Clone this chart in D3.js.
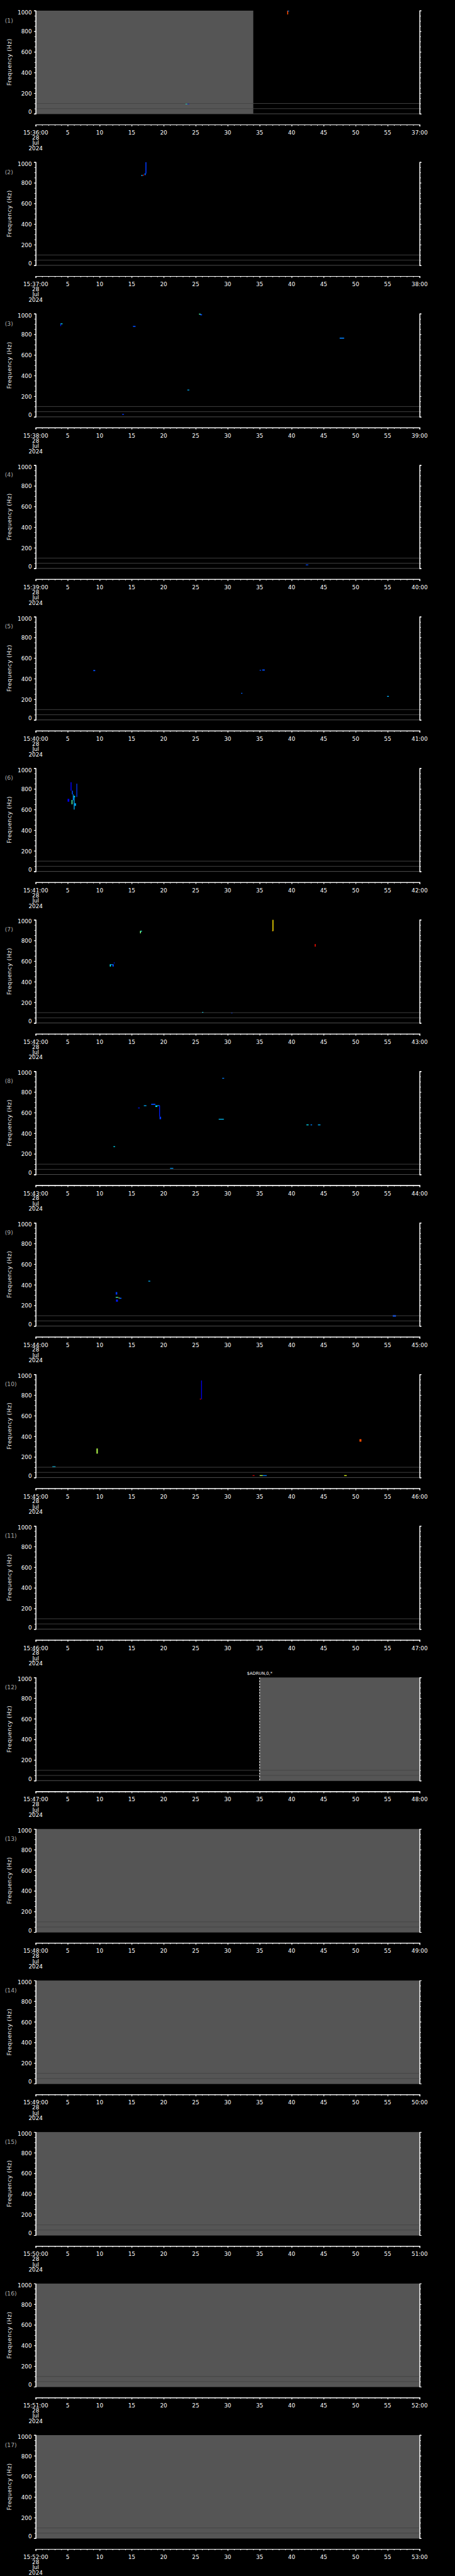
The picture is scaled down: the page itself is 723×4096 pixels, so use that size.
<!DOCTYPE html>
<html><head><meta charset="utf-8">
<script src="https://cdn.jsdelivr.net/npm/d3@7"></script>
<style>html,body{margin:0;padding:0;background:#000;overflow:hidden}svg{display:block}</style>
</head><body>
<svg id="c" width="723" height="4096" viewBox="0 0 1024 5802"></svg>
<script>
// ---------- data ----------
const panelIds = ["(1)","(2)","(3)","(4)","(5)","(6)","(7)","(8)","(9)","(10)","(11)","(12)","(13)","(14)","(15)","(16)","(17)"];
const startLabels = ["15:36:00","15:37:00","15:38:00","15:39:00","15:40:00","15:41:00","15:42:00","15:43:00","15:44:00","15:45:00","15:46:00","15:47:00","15:48:00","15:49:00","15:50:00","15:51:00","15:52:00"];
const endLabels = ["37:00","38:00","39:00","40:00","41:00","42:00","43:00","44:00","45:00","46:00","47:00","48:00","49:00","50:00","51:00","52:00","53:00"];
const dateLines = ["28","Jul","2024"];
const timeTickValues = [5,10,15,20,25,30,35,40,45,50,55];
const timeTickLabels = ["5","10","15","20","25","30","35","40","45","50","55"];
const freqTicks = [0,200,400,600,800,1000];
const freqTickLabels = ["0","200","400","600","800","1000"];
const refLineFreqs = [0,50,100];
// no-data (gray) spans: panel number, start second, end second
const grayPanel = [1,12,13,14,15,16,17];
const grayStart = [0,35,0,0,0,0,0];
const grayEnd   = [34,60,60,60,60,60,60];
// annotation markers
const notePanel = [12];
const noteTime = [35];
const noteText = ["$ADRUN,0,*"];
// spectrogram traces: [panel, t0 (s), t1 (s), f0 (Hz), f1 (Hz), intensity 0..1]
const traces = [
 [1,39.3,39.45,963,1000,0.8],[1,39.4,39.6,995,1000,0.25],[1,23.4,23.7,97,101,0.4],[1,23.7,24.0,97,101,0.15],
 [2,17.15,17.3,890,1000,0.18],[2,17.0,17.2,875,892,0.22],[2,16.75,16.9,868,880,0.92],[2,16.5,16.7,866,876,0.3],
 [3,3.85,3.95,880,905,0.15],[3,3.9,4.2,902,906,0.35],[3,15.2,15.6,872,882,0.2],[3,25.5,25.8,996,1000,0.45],
 [3,25.7,26.0,985,995,0.2],[3,47.5,48.2,758,768,0.25],[3,23.7,24.0,260,264,0.3],[3,13.5,13.8,24,28,0.18],
 [4,42.2,42.6,34,38,0.2],
 [5,9.0,9.3,473,484,0.2],[5,35.0,35.2,479,485,0.2],[5,35.4,35.8,478,489,0.2],[5,32.1,32.3,258,262,0.22],[5,54.9,55.2,228,232,0.3],
 [6,5.45,5.6,783,865,0.12],[6,5.65,5.8,747,783,0.2],[6,5.8,5.9,690,747,0.25],[6,5.95,6.15,719,733,0.38],
 [6,5.95,6.05,600,719,0.3],[6,6.36,6.44,722,851,0.18],[6,4.98,5.25,676,704,0.1],[6,5.6,5.75,651,693,0.45],[6,6.06,6.29,636,661,0.3],
 [7,16.3,16.45,869,894,0.5],[7,16.4,16.6,890,894,0.4],[7,37.0,37.15,895,1000,0.65],[7,36.95,37.15,893,898,0.68],
 [7,43.6,43.75,740,765,0.86],[7,11.58,11.75,547,569,0.38],[7,11.75,12.05,567,570,0.25],[7,12.0,12.2,547,569,0.2],
 [7,12.2,12.35,583,586,0.15],[7,26.0,26.2,103,107,0.35],[7,30.55,30.75,98,101,0.18],
 [8,29.15,29.45,933,937,0.25],[8,16.0,16.25,645,649,0.15],[8,16.9,17.3,667,671,0.3],[8,18.05,18.7,675,686,0.2],
 [8,18.7,19.0,655,670,0.35],[8,19.0,19.35,668,672,0.25],[8,19.3,19.4,560,670,0.15],[8,19.35,19.6,536,560,0.18],
 [8,28.6,29.4,536,540,0.32],[8,42.3,42.65,481,485,0.35],[8,42.95,43.2,481,485,0.25],[8,44.1,44.5,480,485,0.3],
 [8,12.15,12.4,268,274,0.35],[8,21.0,21.5,60,64,0.28],
 [9,17.6,17.9,435,439,0.3],[9,12.5,12.75,305,329,0.18],[9,12.5,12.9,278,282,0.45],[9,12.95,13.1,270,276,0.65],
 [9,13.1,13.4,264,274,0.22],[9,12.55,12.85,236,257,0.15],[9,55.8,56.3,90,107,0.2],
 [10,25.85,25.98,761,941,0.1],[10,25.65,25.85,759,765,0.92],[10,50.6,50.9,348,372,0.8],[10,9.5,9.7,232,282,0.55],
 [10,2.6,3.1,102,109,0.33],[10,33.9,34.2,19,23,0.92],[10,35.0,35.5,19,23,0.55],[10,35.5,36.1,19,23,0.25],[10,48.2,48.6,19,23,0.6]
];

// ---------- layout (reference pixels; viewBox scales to window) ----------
const W = 1024, H = 5802, nP = panelIds.length;
const panelH = H / nP, top0 = 24;
const plotL = 80.3, plotR = 944.5, plotH = 232.3, axisY = 256.7;
const FONT = "DejaVu Sans, Verdana, sans-serif";

const svg = d3.select("#c");
svg.append("rect").attr("width", W).attr("height", H).attr("fill", "#000");

const x = d3.scaleLinear().domain([0, 60]).range([plotL, plotR]);
const y = d3.scaleLinear().domain([0, 1000]).range([plotH, 0]);
const jet = d3.scaleLinear().domain([0, 0.125, 0.375, 0.625, 0.875, 1])
  .range(["#00008f", "#0000ff", "#00ffff", "#ffff00", "#ff0000", "#800000"]);

const minorFreq = d3.range(0, 1001, 50);
const minorTime = d3.range(0, 61, 1);

panelIds.forEach((pid, i) => {
  const pn = i + 1;
  const g = svg.append("g").attr("transform", `translate(0,${top0 + i * panelH})`);

  // no-data spans
  grayPanel.forEach((p, k) => {
    if (p !== pn) return;
    g.append("rect").attr("x", x(grayStart[k])).attr("y", 0)
      .attr("width", x(grayEnd[k]) - x(grayStart[k])).attr("height", plotH).attr("fill", "#555555");
  });

  // traces
  traces.filter(d => d[0] === pn).forEach(d => {
    const x0 = x(d[1]), x1 = x(d[2]);
    const yTop = y(Math.max(d[3], d[4])), yBot = y(Math.min(d[3], d[4]));
    g.append("rect").attr("x", x0).attr("y", yTop)
      .attr("width", Math.max(x1 - x0, 1.8)).attr("height", Math.max(yBot - yTop, 1.8))
      .attr("fill", jet(d[5]));
  });

  // reference lines
  refLineFreqs.forEach(f => {
    g.append("line").attr("x1", plotL).attr("x2", plotR).attr("y1", y(f)).attr("y2", y(f))
      .attr("stroke", f === 0 ? "#555" : "#444").attr("stroke-width", 1.3);
  });

  // annotations
  notePanel.forEach((p, k) => {
    if (p !== pn) return;
    g.append("line").attr("x1", x(noteTime[k])).attr("x2", x(noteTime[k])).attr("y1", 0).attr("y2", plotH)
      .attr("stroke", "#fff").attr("stroke-width", 1.5).attr("stroke-dasharray", "4,2.5");
    g.append("text").attr("x", x(noteTime[k])).attr("y", -5.7).attr("text-anchor", "middle")
      .attr("font-family", FONT).attr("font-size", 9.5).attr("fill", "#fff").text(noteText[k]);
  });

  // left axis
  const left = g.append("g").attr("transform", `translate(${plotL},0)`);
  left.call(d3.axisLeft(y).tickValues(minorFreq).tickSize(3).tickFormat(""));
  left.call(g2 => g2.append("g").call(d3.axisLeft(y).tickValues(freqTicks).tickSize(4).tickFormat("")));
  // right axis
  const right = g.append("g").attr("transform", `translate(${plotR},0)`);
  right.call(d3.axisRight(y).tickValues(minorFreq).tickSize(3).tickFormat(""));
  right.call(g2 => g2.append("g").call(d3.axisRight(y).tickValues(freqTicks).tickSize(4).tickFormat("")));
  g.selectAll(".domain").attr("stroke", "#fff").attr("stroke-width", 1.5);
  g.selectAll(".tick line").attr("stroke", "#fff").attr("stroke-width", 1.3);

  // freq labels
  freqTicks.forEach((f, k) => {
    const by = Math.min(Math.max(y(f) + 5.3, 8.3), plotH + 0.4);
    g.append("text").attr("x", 71.5).attr("y", by).attr("text-anchor", "end")
      .attr("font-family", FONT).attr("font-size", 12.5).attr("fill", "#fff").text(freqTickLabels[k]);
  });

  // panel id & y title
  g.append("text").attr("x", 11).attr("y", 26.5).attr("font-family", FONT).attr("font-size", 13)
    .attr("fill", "#aaaaaa").text(pid);
  g.append("text").attr("transform", `translate(26,116) rotate(-90)`).attr("text-anchor", "middle")
    .attr("font-family", FONT).attr("font-size", 13).attr("letter-spacing", 0.6).attr("fill", "#eeeeee")
    .text("Frequency (Hz)");

  // time axis
  const bottom = g.append("g").attr("transform", `translate(0,${axisY})`);
  bottom.call(d3.axisBottom(x).tickValues(minorTime).tickSize(2.6).tickFormat(""));
  bottom.call(g2 => g2.append("g").call(d3.axisBottom(x).tickValues([0].concat(timeTickValues, [60])).tickSize(4.2).tickFormat("")));
  bottom.selectAll(".domain").attr("stroke", "#fff").attr("stroke-width", 1.5);
  bottom.selectAll(".tick line").attr("stroke", "#fff").attr("stroke-width", 1.3);

  const tl = (tx, ty, s) => g.append("text").attr("x", tx).attr("y", ty).attr("text-anchor", "middle")
    .attr("font-family", FONT).attr("font-size", 12.5).attr("fill", "#fff").text(s);
  tl(x(0), 279.3, startLabels[i]);
  timeTickValues.forEach((t, k) => tl(x(t), 279.3, timeTickLabels[k]));
  tl(x(60), 279.3, endLabels[i]);
  dateLines.forEach((s, k) => tl(x(0), 290.3 + k * 12, s));
});
</script>
</body></html>
